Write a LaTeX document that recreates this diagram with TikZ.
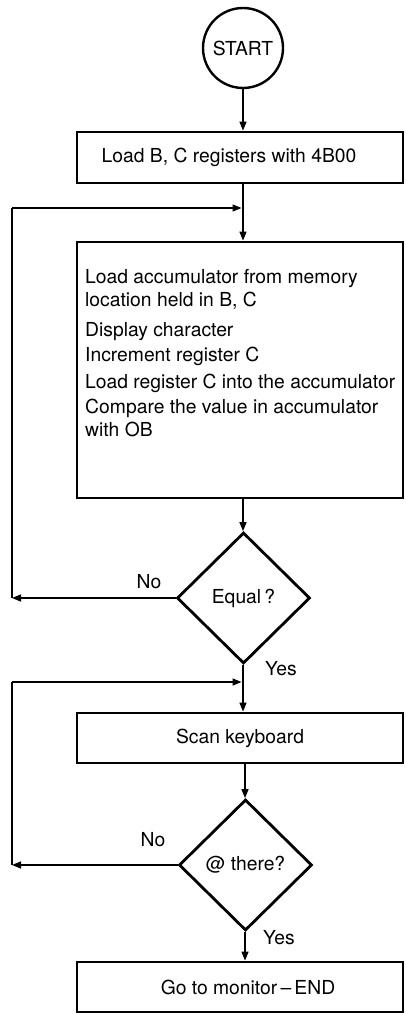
\documentclass[tikz,border=0pt]{standalone}
\usepackage{fontspec}
\setmainfont{TeX Gyre Heros}
\usetikzlibrary{shapes.geometric,arrows.meta}
\begin{document}
\begin{tikzpicture}[x=1pt,y=-1pt,
  every node/.style={font=\fontsize{19.3}{23}\selectfont},
  procbox/.style={draw,line width=2.8pt,rectangle,inner sep=0pt,minimum width=326pt},
  decision/.style={draw,line width=2.8pt,diamond,aspect=1,inner sep=0pt,minimum width=133pt,minimum height=131pt},
  terminal/.style={draw,line width=2.4pt,circle,inner sep=0pt,minimum size=80pt},
  conn/.style={line width=1.4pt},
  arr/.style={conn,-{Triangle[length=9pt,width=7pt]}},
  lbl/.style={inner sep=0pt}]
\useasboundingbox (0,0) rectangle (405,1014);
\node[terminal] (start) at (243,48) {START};
\node[procbox,minimum height=51pt] (box1) at (240,157.5) {\hspace*{-22pt}Load B, C registers with 4B00};
\node[procbox,minimum height=256pt] (box2) at (240,370) {};
\node[lbl,anchor=north west,align=left] (box2text) at (85,269) {Load accumulator from memory\\
location held in B, C\\[7pt]
Display character\\[2pt]
Increment register C\\[4pt]
Load register C into the accumulator\\[2pt]
Compare the value in accumulator\\
with OB};
\node[decision] (d1) at (243.5,598) {Equal\,?};
\node[procbox,minimum height=50pt] (box3) at (240,738) {Scan keyboard};
\node[decision] (d2) at (245.5,865) {@ there?};
\node[procbox,minimum height=50pt] (box4) at (240,987) {\hspace*{16pt}Go to monitor\,--\,END};

\coordinate (j1) at (243,208);
\coordinate (j2) at (243,682);
\coordinate (l1) at (12,598);
\coordinate (l2) at (12,865);

\draw[arr] (start.south -| 243,0) -- (box1.north -| 243,0);
\draw[arr] (box1.south -| 243,0) -- (box2.north -| 243,0);
\draw[arr] (box2.south -| 243,0) -- (d1.north -| 243,0);
\draw[arr] (d1.south -| 243,0) -- (box3.north -| 243,0);
\draw[arr] (box3.south -| 245,0) -- (d2.north -| 245,0);
\draw[arr] (d2.south -| 245,0) -- (box4.north -| 245,0);

\draw[arr] (d1.west) -- (l1);
\draw[conn] (l1) -- (l1 |- j1);
\draw[arr] (l1 |- j1) -- ([xshift=-1.5pt]j1);
\draw[arr] (d2.west) -- (l2);
\draw[conn] (l2) -- (l2 |- j2);
\draw[arr] (l2 |- j2) -- ([xshift=-1.5pt]j2);

\node[lbl] (no1) at (149,582) {No};
\node[lbl] (yes1) at (281,669) {Yes};
\node[lbl] (no2) at (153,840) {No};
\node[lbl] (yes2) at (279,938) {Yes};
\end{tikzpicture}
\end{document}
